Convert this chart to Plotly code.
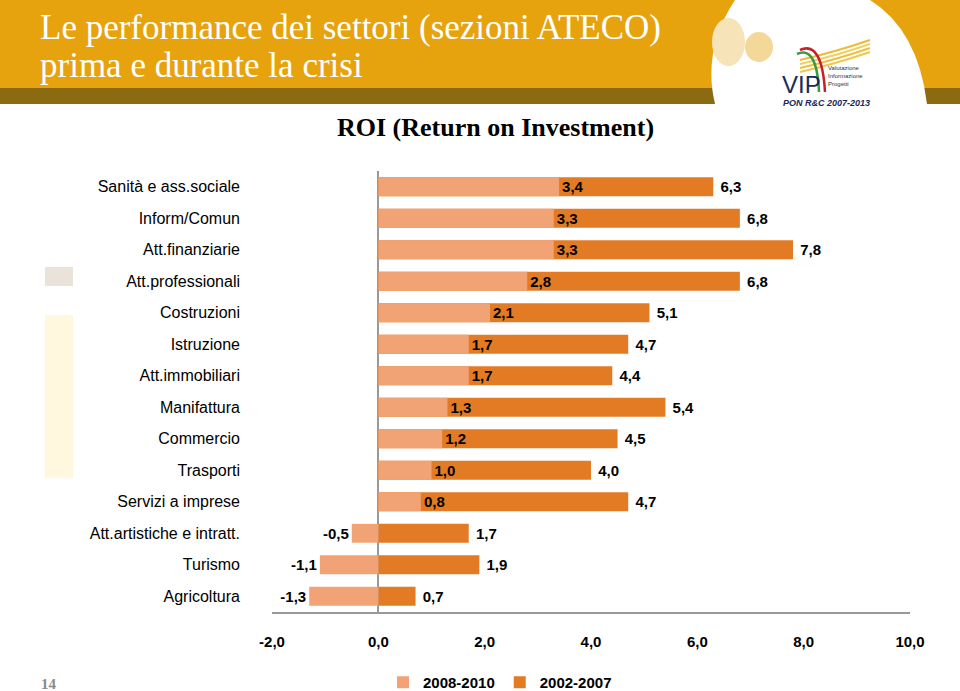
import plotly.graph_objects as go

categories = ["Sanità e ass.sociale", "Inform/Comun", "Att.finanziarie", "Att.professionali",
              "Costruzioni", "Istruzione", "Att.immobiliari", "Manifattura", "Commercio",
              "Trasporti", "Servizi a imprese", "Att.artistiche e intratt.", "Turismo", "Agricoltura"]
roi_2008_2010 = [3.4, 3.3, 3.3, 2.8, 2.1, 1.7, 1.7, 1.3, 1.2, 1.0, 0.8, -0.5, -1.1, -1.3]
roi_2002_2007 = [6.3, 6.8, 7.8, 6.8, 5.1, 4.7, 4.4, 5.4, 4.5, 4.0, 4.7, 1.7, 1.9, 0.7]
tick_vals = [-2, 0, 2, 4, 6, 8, 10]
tick_text = ["-2,0", "0,0", "2,0", "4,0", "6,0", "8,0", "10,0"]

W, H = 960, 691
L, R, T, B = 272, 50, 171, 79
PW, PH = W - L - R, H - T - B


def X(px):
    return (px - L) / PW


def Y(py):
    return (H - B - py) / PH


def fmt(v):
    return f"{v:.1f}".replace(".", ",")


LIGHT = "#F2A375"
DARK = "#E27B24"
FONT = "Liberation Sans, Arial, sans-serif"
SERIF = "Liberation Serif, Times New Roman, serif"

fig = go.Figure()
fig.add_trace(go.Bar(
    y=categories, x=roi_2002_2007, orientation="h", name="2002-2007",
    marker=dict(color=DARK, line=dict(width=0)), width=0.6,
    text=["\u00a0" + fmt(v) for v in roi_2002_2007], textposition="outside",
    textfont=dict(family=FONT, size=15, color="black", weight="bold"),
    cliponaxis=False, legendrank=2,
))
fig.add_trace(go.Bar(
    y=categories, x=roi_2008_2010, orientation="h", name="2008-2010",
    marker=dict(color=LIGHT, line=dict(width=0)), width=0.6,
    text=[fmt(v) for v in roi_2008_2010], textposition="outside",
    textfont=dict(family=FONT, size=15, color="black", weight="bold"),
    cliponaxis=False, legendrank=1,
))

shapes = []
# header banner
shapes.append(dict(type="rect", xref="paper", yref="paper", x0=X(0), x1=X(W), y0=Y(88), y1=Y(0),
                   fillcolor="#E6A30E", line=dict(width=0), layer="below"))
shapes.append(dict(type="rect", xref="paper", yref="paper", x0=X(0), x1=X(W), y0=Y(104), y1=Y(88),
                   fillcolor="#8C6A10", line=dict(width=0), layer="below"))
# white logo area
path = (f"M {X(735)},{Y(0)} L {X(870)},{Y(0)} Q {X(918)},{Y(30)} {X(927)},{Y(104)} "
        f"L {X(715)},{Y(104)} Q {X(702)},{Y(50)} {X(735)},{Y(0)} Z")
shapes.append(dict(type="path", xref="paper", yref="paper", path=path, fillcolor="white",
                   line=dict(width=0), layer="below"))
shapes.append(dict(type="circle", xref="paper", yref="paper", x0=X(745), x1=X(773), y0=Y(62), y1=Y(32),
                   fillcolor="#F3D89A", line=dict(width=0), layer="below"))
shapes.append(dict(type="circle", xref="paper", yref="paper", x0=X(712), x1=X(745), y0=Y(66), y1=Y(18),
                   fillcolor="#F6E3B8", line=dict(width=0), layer="below"))
# logo swooshes
for i, col in enumerate(["#F1C84B", "#EFC040", "#F3CF62", "#EDBB35"]):
    y0 = 72 - i * 4
    shapes.append(dict(type="path", xref="paper", yref="paper",
                       path=f"M {X(800)},{Y(y0)} Q {X(835)},{Y(y0 - 8)} {X(870)},{Y(y0 - 20)}",
                       line=dict(color=col, width=2), layer="above"))
shapes.append(dict(type="path", xref="paper", yref="paper",
                   path=f"M {X(800)},{Y(50)} Q {X(822)},{Y(40)} {X(825)},{Y(92)}",
                   line=dict(color="#C8202A", width=2.5), layer="above"))
shapes.append(dict(type="path", xref="paper", yref="paper",
                   path=f"M {X(797)},{Y(54)} Q {X(817)},{Y(45)} {X(819)},{Y(92)}",
                   line=dict(color="#3C9A3C", width=2.5), layer="above"))
# left decorations
shapes.append(dict(type="rect", xref="paper", yref="paper", x0=X(45), x1=X(73), y0=Y(286), y1=Y(267),
                   fillcolor="#EAE3D9", line=dict(width=0), layer="below"))
shapes.append(dict(type="rect", xref="paper", yref="paper", x0=X(45), x1=X(73), y0=Y(478), y1=Y(315),
                   fillcolor="#FFF8DE", line=dict(width=0), layer="below"))

annotations = [
    dict(text="Le performance dei settori (sezioni ATECO)", xref="paper", yref="paper",
         x=X(38), y=Y(27), xanchor="left", yanchor="middle", showarrow=False,
         font=dict(family=SERIF, size=35, color="white")),
    dict(text="prima e durante la crisi", xref="paper", yref="paper",
         x=X(38), y=Y(66), xanchor="left", yanchor="middle", showarrow=False,
         font=dict(family=SERIF, size=35, color="white")),
    dict(text="ROI (Return on Investment)", xref="paper", yref="paper",
         x=X(495), y=Y(128), xanchor="center", yanchor="middle", showarrow=False,
         font=dict(family=SERIF, size=26, color="black", weight="bold")),
    dict(text="VIP", xref="paper", yref="paper", x=X(780), y=Y(85), xanchor="left", yanchor="middle",
         showarrow=False, font=dict(family=FONT, size=24, color="#1A2A5A")),
    dict(text="Valutazione<br>Informazione<br>Progetti", xref="paper", yref="paper", x=X(826), y=Y(76),
         xanchor="left", yanchor="middle", showarrow=False, align="left",
         font=dict(family=FONT, size=6, color="#333")),
    dict(text="<b><i>PON R&C 2007-2013</i></b>", xref="paper", yref="paper", x=X(781), y=Y(103),
         xanchor="left", yanchor="middle", showarrow=False,
         font=dict(family=FONT, size=9, color="#1A2A5A")),
    dict(text="14", xref="paper", yref="paper", x=X(49), y=Y(684), xanchor="center", yanchor="middle",
         showarrow=False, font=dict(family=SERIF, size=15, color="#8A8A8A", weight="bold")),
]

fig.update_layout(
    width=W, height=H, margin=dict(l=L, r=R, t=T, b=B, pad=0, autoexpand=False),
    paper_bgcolor="white", plot_bgcolor="white",
    barmode="overlay", bargap=0.4,
    showlegend=True,
    legend=dict(orientation="h", x=X(383), y=Y(666), xanchor="left", yanchor="top",
                font=dict(family=FONT, size=15, color="black", weight="bold"),
                bgcolor="rgba(0,0,0,0)", traceorder="normal", itemclick=False),
    xaxis=dict(range=[-2, 10], tickvals=tick_vals, ticktext=tick_text, showgrid=False,
               zeroline=True, zerolinecolor="#999999", zerolinewidth=1.5,
               showline=True, linecolor="#999999", linewidth=1.5, ticks="",
               ticklabelstandoff=15, automargin=False,
               tickfont=dict(family=FONT, size=15, color="black", weight="bold"), fixedrange=True),
    yaxis=dict(autorange="reversed", showgrid=False, showline=False, zeroline=False, ticks="",
               ticklabelstandoff=31, automargin=False,
               tickfont=dict(family=FONT, size=16, color="black"), fixedrange=True),
    shapes=shapes, annotations=annotations,
)

fig.write_html("out.html")
